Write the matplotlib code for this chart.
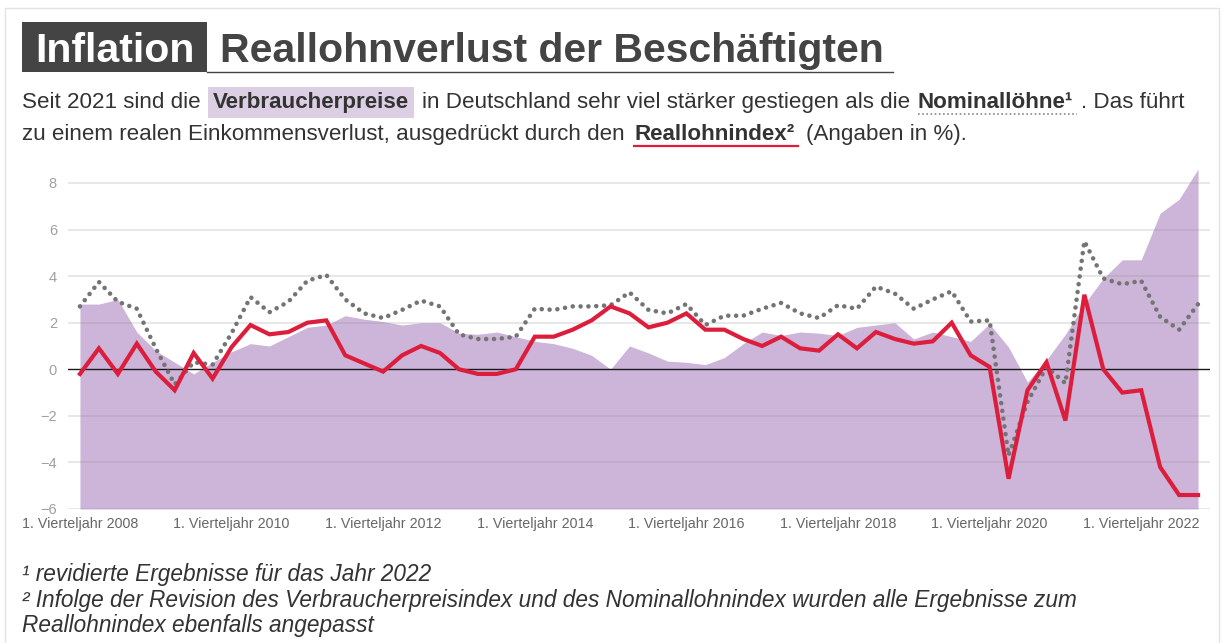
import numpy as np
import matplotlib
matplotlib.use('Agg')
import matplotlib.pyplot as plt
from matplotlib.patches import Rectangle
from matplotlib.lines import Line2D

plt.rcParams['font.family'] = ['Liberation Sans', 'DejaVu Sans']

# quarterly values, Q1 2008 .. Q4 2022 (in %)
verbraucherpreise = [2.8, 2.8, 3.0, 1.6, 0.8, 0.3, -0.2, 0.3, 0.75, 1.1,
                     1.0, 1.4, 1.8, 1.9, 2.3, 2.15, 2.05, 1.9, 2.0, 2.0,
                     1.55, 1.5, 1.6, 1.4, 1.2, 1.1, 0.9, 0.6, 0.0, 1.0,
                     0.7, 0.35, 0.3, 0.2, 0.5, 1.1, 1.6, 1.45, 1.6, 1.55,
                     1.45, 1.8, 1.9, 2.0, 1.3, 1.6, 1.4, 1.2, 1.95, 0.95,
                     -0.55, 0.4, 1.5, 2.8, 3.9, 4.7, 4.7, 6.7, 7.3, 8.6]
nominalloehne = [2.7, 3.75, 2.9, 2.6, 0.9, -0.65, 0.3, 0.2, 1.55, 3.1,
                 2.45, 2.9, 3.8, 4.05, 3.0, 2.4, 2.2, 2.55, 2.95, 2.7,
                 1.5, 1.3, 1.3, 1.4, 2.6, 2.55, 2.7, 2.7, 2.75, 3.3,
                 2.55, 2.4, 2.8, 1.9, 2.3, 2.3, 2.6, 2.85, 2.4, 2.2,
                 2.75, 2.6, 3.55, 3.25, 2.6, 3.0, 3.35, 2.05, 2.1, -3.7,
                 -1.4, 0.1, -0.6, 5.5, 3.9, 3.65, 3.8, 2.25, 1.7, 2.8]
reallohnindex = [-0.2, 0.9, -0.2, 1.1, -0.1, -0.9, 0.7, -0.4, 0.95, 1.9,
                 1.5, 1.6, 2.0, 2.1, 0.6, 0.25, -0.1, 0.6, 1.0, 0.7,
                 0.0, -0.2, -0.2, 0.0, 1.4, 1.4, 1.7, 2.1, 2.7, 2.4,
                 1.8, 2.0, 2.4, 1.7, 1.7, 1.3, 1.0, 1.4, 0.9, 0.8,
                 1.5, 0.9, 1.6, 1.3, 1.1, 1.2, 2.0, 0.6, 0.1, -4.7,
                 -0.9, 0.3, -2.2, 3.2, 0.0, -1.0, -0.9, -4.2, -5.4, -5.4]

tick_pos = [0, 8, 16, 24, 32, 40, 48, 56]
tick_labels = ['1. Vierteljahr 2008', '1. Vierteljahr 2010', '1. Vierteljahr 2012',
               '1. Vierteljahr 2014', '1. Vierteljahr 2016', '1. Vierteljahr 2018',
               '1. Vierteljahr 2020', '1. Vierteljahr 2022']
y_ticks = [-6, -4, -2, 0, 2, 4, 6, 8]

PURPLE = '#cdb4d9'
RED = '#dc1e3c'
GREY = '#747474'
DARK = '#444444'
TEXT = '#333333'

W, H = 1223, 643
fig = plt.figure(figsize=(W / 100, H / 100), dpi=100)
renderer = fig.canvas.get_renderer()


def fx(x):
    return x / W


def fy(y):
    return 1 - y / H


# card border
fig.patches.append(Rectangle((fx(5), fy(660)), fx(1219) - fx(5), fy(8) - fy(660),
                             transform=fig.transFigure, facecolor='none',
                             edgecolor='#e3e3e3', lw=1))

# title
fig.patches.append(Rectangle((fx(22), fy(72)), fx(207) - fx(22), fy(22) - fy(72),
                             transform=fig.transFigure, facecolor=DARK, edgecolor='none'))
fig.text(fx(35), fy(62), 'Inflation', color='white', fontsize=29.5,
         fontweight='bold', va='baseline')
fig.text(fx(220), fy(62), 'Reallohnverlust der Beschäftigten', color=DARK,
         fontsize=29.5, fontweight='bold', va='baseline')
fig.lines.append(Line2D([fx(207), fx(893)], [fy(72), fy(72)],
                        transform=fig.transFigure, color=DARK, lw=1))


def run(x, y, s, **kw):
    t = fig.text(fx(x), fy(y), s, fontsize=16.15, color=TEXT, va='baseline', **kw)
    bb = t.get_window_extent(renderer)
    return bb.x0, bb.x1


# subtitle line 1
_, x = run(22, 108, 'Seit 2021 sind die')
a, b = run(x + 12, 108, 'Verbraucherpreise', fontweight='bold',
           bbox=dict(facecolor='#dccfe4', edgecolor='none', pad=3.5))
_, x = run(b + 13, 108, 'in Deutschland sehr viel stärker gestiegen als die')
a, b = run(x + 8, 108, 'Nominallöhne¹', fontweight='bold')
fig.lines.append(Line2D([fx(a), fx(b + 4)], [fy(114), fy(114)],
                        transform=fig.transFigure, color='#888888', lw=1.2,
                        linestyle=(0, (1, 1.5))))
run(b + 8, 108, '. Das führt')

# subtitle line 2
_, x = run(22, 140, 'zu einem realen Einkommensverlust, ausgedrückt durch den')
a, b = run(x + 10, 140, 'Reallohnindex²', fontweight='bold')
fig.lines.append(Line2D([fx(a - 1), fx(b + 3)], [fy(146), fy(146)],
                        transform=fig.transFigure, color=RED, lw=1.6))
run(b + 11, 140, '(Angaben in %).')

# chart
ax = fig.add_axes([fx(68), fy(509), fx(1210) - fx(68), fy(169) - fy(509)])
q = np.arange(len(verbraucherpreise))
ax.fill_between(q, verbraucherpreise, -6, color=PURPLE, lw=0, zorder=1)
for yv in y_ticks:
    if yv != 0:
        ax.axhline(yv, color='#909090', alpha=0.25, lw=1.2, zorder=2)
ax.axhline(0, color='#1a1a1a', lw=1, zorder=3)
ax.plot(q, nominalloehne, color=GREY, lw=3.3, linestyle=(0, (0.01, 1.7)),
        dash_capstyle='round', zorder=4)
ax.plot(q, reallohnindex, color=RED, lw=3.0, solid_joinstyle='miter', zorder=5)

ax.set_xlim(-0.63, len(q) - 1 + 0.63)
ax.set_ylim(-6, 8.6)
ax.set_yticks(y_ticks)
ax.set_yticklabels([str(v).replace('-', '\u2212') for v in y_ticks])
ax.set_xticks(tick_pos)
ax.set_xticklabels(tick_labels)
ax.tick_params(axis='y', length=0, pad=8, labelsize=10.5, labelcolor='#a0a0a0')
ax.tick_params(axis='x', length=0, pad=6, labelsize=10.3, labelcolor='#666666')
for s in ax.spines.values():
    s.set_visible(False)
ax.patch.set_alpha(0)

# footnotes
fig.text(fx(22), fy(581), '¹ revidierte Ergebnisse für das Jahr 2022',
         fontsize=16.25, style='italic', color=TEXT, va='baseline')
fig.text(fx(22), fy(607), '² Infolge der Revision des Verbraucherpreisindex und des '
         'Nominallohnindex wurden alle Ergebnisse zum',
         fontsize=16.25, style='italic', color=TEXT, va='baseline')
fig.text(fx(22), fy(632), 'Reallohnindex ebenfalls angepasst',
         fontsize=16.25, style='italic', color=TEXT, va='baseline')

fig.savefig('out.png', dpi=100)
